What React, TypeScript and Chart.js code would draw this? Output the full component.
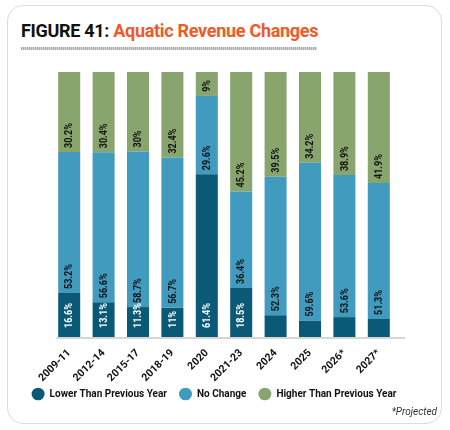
import React, { useEffect, useRef } from "react";
import { Chart, registerables } from "chart.js";

Chart.register(...registerables);

const categories = ["2009-11", "2012-14", "2015-17", "2018-19", "2020", "2021-23", "2024", "2025", "2026*", "2027*"];
const lowerValues = [16.6, 13.1, 11.3, 11, 61.4, 18.5, 8.2, 6.2, 7.5, 6.8];
const noChangeValues = [53.2, 56.6, 58.7, 56.7, 29.6, 36.4, 52.3, 59.6, 53.6, 51.3];
const higherValues = [30.2, 30.4, 30, 32.4, 9, 45.2, 39.5, 34.2, 38.9, 41.9];
const lowerLabels = ["16.6%", "13.1%", "11.3%", "11%", "61.4%", "18.5%", "", "", "", ""];
const noChangeLabels = ["53.2%", "56.6%", "58.7%", "56.7%", "29.6%", "36.4%", "52.3%", "59.6%", "53.6%", "51.3%"];
const higherLabels = ["30.2%", "30.4%", "30%", "32.4%", "9%", "45.2%", "39.5%", "34.2%", "38.9%", "41.9%"];
const seriesNames = ["Lower Than Previous Year", "No Change", "Higher Than Previous Year"];
const seriesColors = ["#0a5a77", "#409bbf", "#88a56e"];

const segmentLabels = [lowerLabels, noChangeLabels, higherLabels];

const labelPlugin = {
  id: "segLabels",
  afterDatasetsDraw(chart: any) {
    const ctx = chart.ctx;
    const area = chart.chartArea;
    const m0 = chart.getDatasetMeta(0);
    const first = m0.data[0];
    ctx.save();
    ctx.strokeStyle = "#d6d6d6";
    ctx.lineWidth = 2;
    ctx.beginPath();
    ctx.moveTo(first.x - first.width / 2 - 2, area.bottom + 1);
    ctx.lineTo(area.right + 9, area.bottom + 1);
    ctx.stroke();
    ctx.restore();

    chart.data.datasets.forEach((ds: any, i: number) => {
      const meta = chart.getDatasetMeta(i);
      meta.data.forEach((el: any, j: number) => {
        const txt = segmentLabels[i][j];
        if (!txt) return;
        const pad = i === 0 ? 9 : 4;
        ctx.save();
        ctx.translate(el.x, el.base - pad);
        ctx.rotate(-Math.PI / 2);
        ctx.scale(0.86, 1);
        ctx.font = "bold 10.5px Roboto";
        ctx.fillStyle = i === 0 ? "#ffffff" : "#111111";
        ctx.textAlign = "left";
        ctx.textBaseline = "middle";
        ctx.fillText(txt, 0, 0.5);
        ctx.restore();
      });
    });
  },
};

export default function App() {
  const ref = useRef<HTMLCanvasElement | null>(null);

  useEffect(() => {
    if (!ref.current) return;
    const chart = new Chart(ref.current, {
      type: "bar",
      data: {
        labels: categories,
        datasets: [lowerValues, noChangeValues, higherValues].map((vals, i) => ({
          label: seriesNames[i],
          data: vals,
          backgroundColor: seriesColors[i],
          borderWidth: 0,
          barPercentage: 0.64,
          categoryPercentage: 1,
        })),
      },
      options: {
        animation: false,
        responsive: false,
        layout: { padding: { top: 72, bottom: 21, left: 0, right: 22 } },
        plugins: {
          tooltip: { enabled: false },
          legend: {
            position: "bottom",
            labels: {
              usePointStyle: true,
              pointStyle: "circle",
              boxHeight: 9,
              pointStyleWidth: 13,
              padding: 12,
              color: "#111",
              font: { family: "Roboto", size: 10, weight: "bold" },
            },
          },
        },
        scales: {
          x: {
            stacked: true,
            grid: { display: false },
            border: { display: false },
            ticks: {
              autoSkip: false,
              maxRotation: 45,
              minRotation: 45,
              padding: 2,
              color: "#111",
              font: { family: "Roboto", size: 10.5, weight: "bold" },
            },
            afterFit: (s: any) => {
              s.height = 40;
              s._computeLabelArea = () => undefined;
            },
          },
          y: {
            stacked: true,
            min: 0,
            max: 100,
            grid: { display: false },
            border: { display: false },
            ticks: { display: false },
            afterFit: (s: any) => {
              s.width = 52;
            },
          },
          y2: {
            type: "linear",
            position: "right",
            grid: { display: false },
            border: { display: false },
            ticks: { display: false },
            afterFit: (s: any) => {
              s.width = 32;
            },
          },
        },
      } as any,
      plugins: [labelPlugin],
    });
    return () => chart.destroy();
  }, []);

  return (
    <div style={{ position: "fixed", left: 0, top: 0, width: 450, height: 430, background: "#fff", fontFamily: "Roboto, sans-serif" }}>
      <div
        style={{
          position: "absolute",
          left: 7,
          top: 5,
          width: 435,
          height: 419,
          boxSizing: "border-box",
          border: "1.5px solid #dcdcdc",
          borderRadius: 16,
        }}
      />
      <div
        style={{
          position: "absolute",
          left: 21,
          top: 22,
          fontSize: 18,
          fontWeight: 700,
          lineHeight: "18px",
          whiteSpace: "nowrap",
          letterSpacing: -0.3,
        }}
      >
        <span style={{ color: "#111" }}>FIGURE 41:</span>
        <span style={{ color: "#f05a28" }}> Aquatic Revenue Changes</span>
      </div>
      <div
        style={{
          position: "absolute",
          left: 21,
          top: 47,
          width: 296,
          height: 3,
          background: "repeating-linear-gradient(90deg, #a8a8a8 0 1px, #d8d8d8 1px 2px)",
        }}
      />
      <canvas ref={ref} width={450} height={430} style={{ position: "absolute", left: 0, top: 0, width: 450, height: 430 }} />
      <div
        style={{
          position: "absolute",
          right: 13,
          top: 406,
          fontSize: 10,
          fontStyle: "italic",
          color: "#333",
        }}
      >
        *Projected
      </div>
    </div>
  );
}
